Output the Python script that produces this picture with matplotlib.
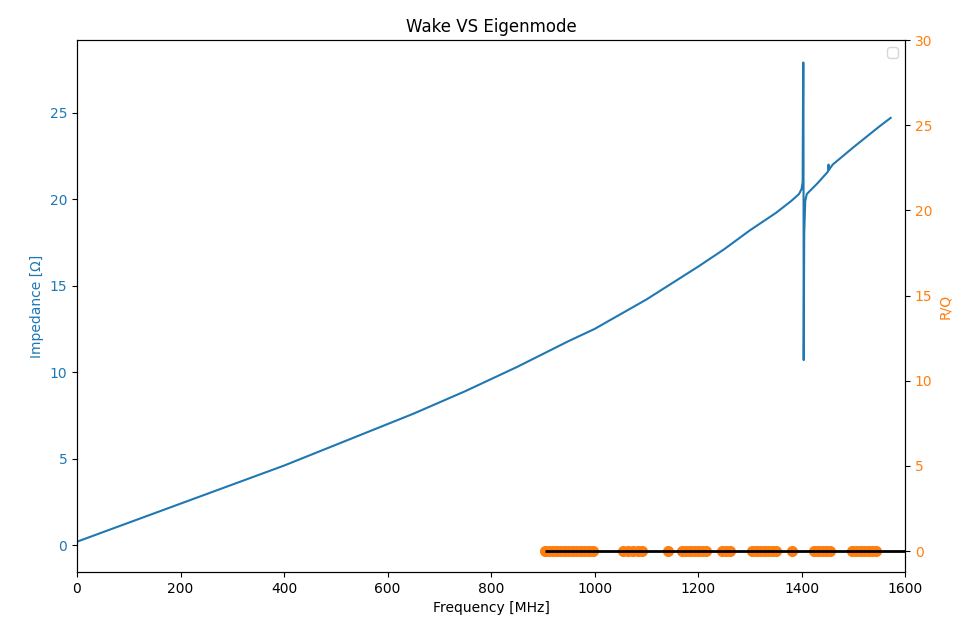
import numpy as np
import matplotlib
matplotlib.use('Agg')
import matplotlib.pyplot as plt

# wakefield impedance (MHz, Ohm)
freq = [0, 50, 100, 150, 200, 250, 300, 350, 400, 450, 500, 550, 600, 650, 700,
        750, 800, 850, 900, 950, 1000, 1050, 1100, 1150, 1200, 1250, 1300, 1350,
        1380, 1395, 1400, 1402, 1403, 1403.5, 1404, 1405, 1407, 1410, 1430,
        1448, 1451, 1452, 1453, 1460, 1500, 1550, 1572]
imped = [0.2, 0.75, 1.3, 1.85, 2.4, 2.95, 3.5, 4.05, 4.6, 5.2, 5.8, 6.4, 7.0, 7.6, 8.25,
         8.9, 9.6, 10.3, 11.05, 11.8, 12.5, 13.35, 14.2, 15.15, 16.1, 17.1, 18.2, 19.2,
         19.9, 20.3, 20.6, 21.0, 27.9, 27.9, 10.7, 18.0, 19.9, 20.3, 20.9,
         21.5, 21.6, 22.0, 21.7, 22.0, 23.0, 24.2, 24.7]

# eigenmode results
rq_freq = [904, 912, 920, 928, 935, 943, 951, 959, 966, 974, 982, 990, 997,
           1055, 1065, 1074, 1083, 1092, 1142,
           1169, 1177, 1185, 1193, 1200, 1208, 1216, 1246, 1254, 1262,
           1304, 1312, 1320, 1328, 1335, 1343, 1351,
           1382, 1424, 1432, 1440, 1448, 1455, 1498, 1506, 1513, 1521, 1528, 1536, 1544]
rq = [0]*len(rq_freq)

fig, ax1 = plt.subplots(figsize=(9.66, 6.26), dpi=100)
fig.subplots_adjust(left=0.0797, right=0.937, top=0.936, bottom=0.0863)

ax1.plot(freq, imped, color='tab:blue')
ax1.set_xlabel('Frequency [MHz]')
ax1.set_ylabel('Impedance [Ω]', color='tab:blue')
ax1.tick_params(axis='y', labelcolor='tab:blue')
ax1.set_xlim(0, 1600)
ax1.set_ylim(-1.55, 29.2)
ax1.set_yticks([0, 5, 10, 15, 20, 25])

ax2 = ax1.twinx()
ax2.plot(rq_freq, rq, 'o', color='tab:orange', markersize=7)
ax2.hlines(0, rq_freq[0], 1600, colors='k', linewidth=2)
ax2.set_ylabel('R/Q', color='tab:orange')
ax2.tick_params(axis='y', labelcolor='tab:orange')
ax2.set_ylim(-1.23, 30)
ax2.legend()

plt.title('Wake VS Eigenmode')
plt.savefig('out.png')
